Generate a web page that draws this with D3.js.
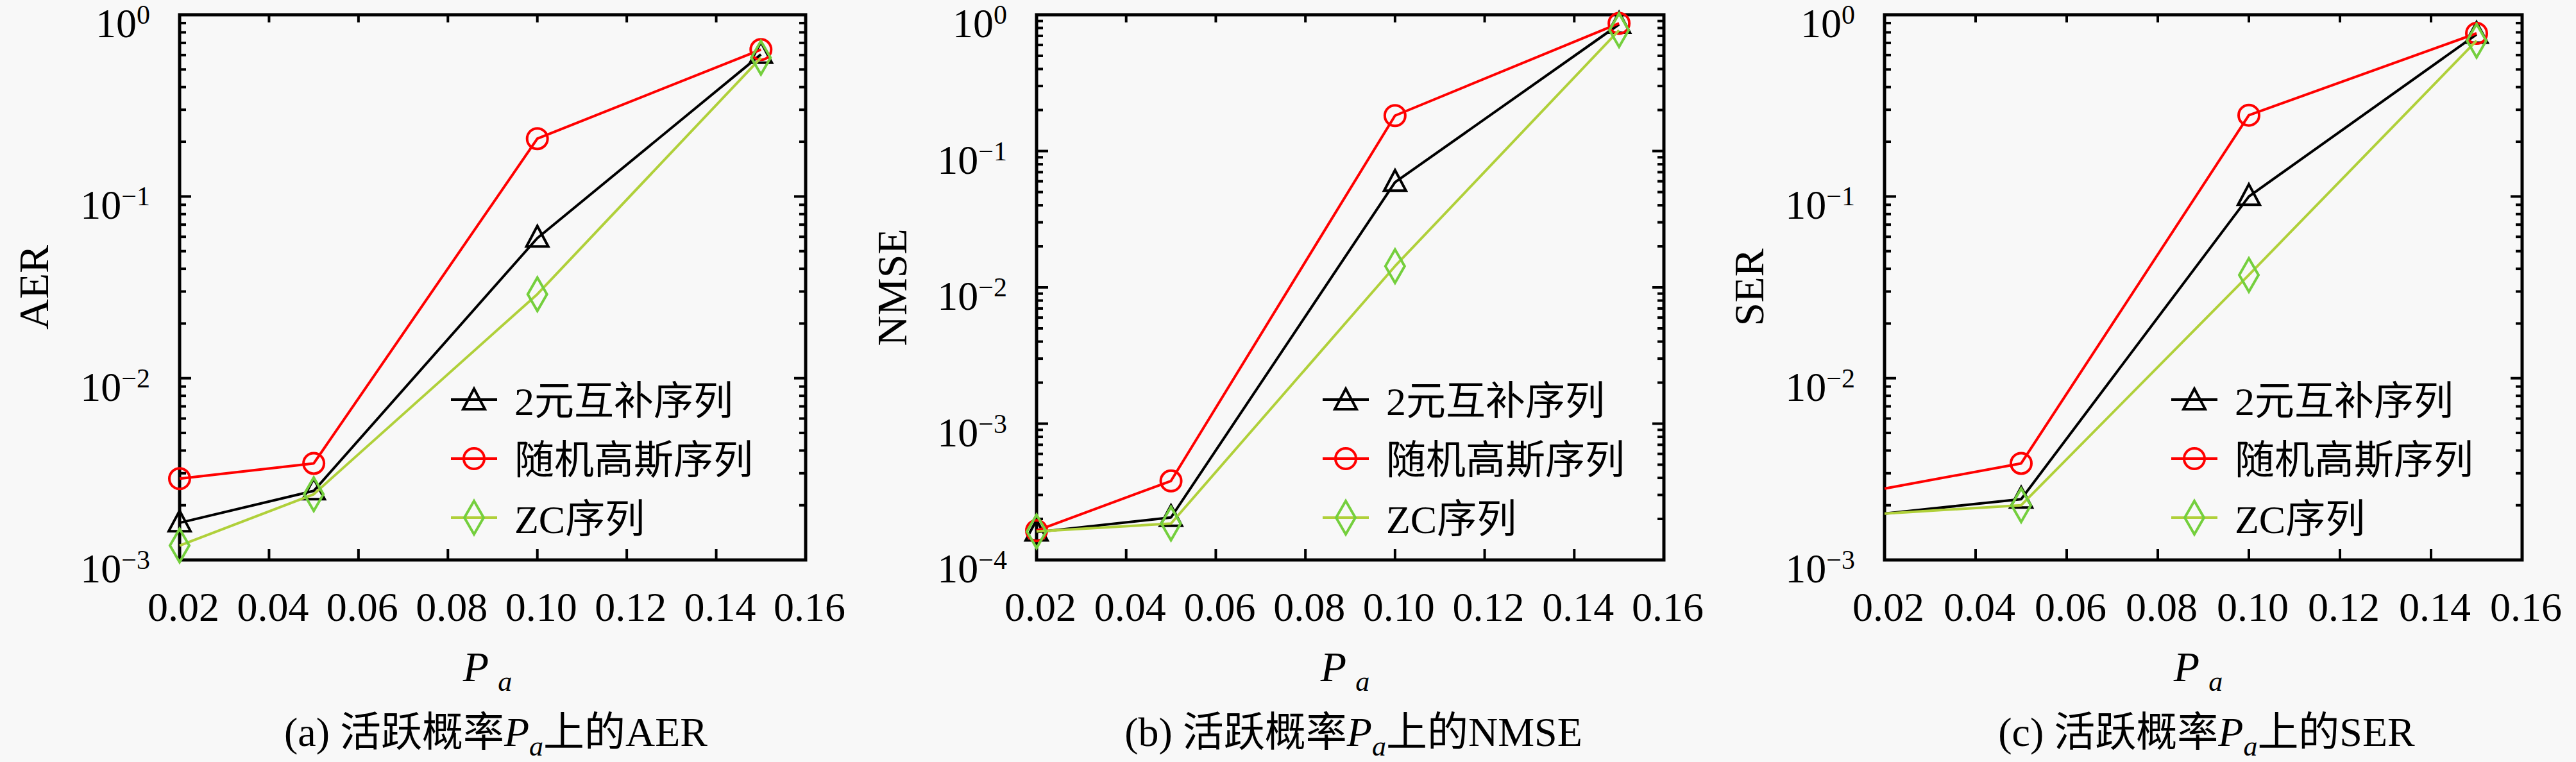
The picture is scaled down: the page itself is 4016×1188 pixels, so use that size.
<!DOCTYPE html>
<html>
<head>
<meta charset="utf-8">
<script src="https://cdn.jsdelivr.net/npm/d3@7"></script>
<style>
  html, body { margin: 0; padding: 0; background: #f8f8f8; }
  svg { display: block; }
  text { font-family: "Liberation Serif", "Noto Sans CJK SC", serif; fill: #000; }
</style>
</head>
<body>
<svg width="4016" height="1188"></svg>
<script>
// data
const pa = [0.02, 0.05, 0.10, 0.15];
const xTicks = [0.02, 0.04, 0.06, 0.08, 0.10, 0.12, 0.14, 0.16];
const seriesNames = ["2元互补序列", "随机高斯序列", "ZC序列"];
const metrics = ["AER", "NMSE", "SER"];
const panelTags = ["(a)", "(b)", "(c)"];

const aerBinary = [0.0016, 0.0024, 0.059, 0.605];
const aerGauss  = [0.0028, 0.0034, 0.208, 0.643];
const aerZC     = [0.0012, 0.0023, 0.029, 0.58];

const nmseBinary = [0.00016, 0.000205, 0.059, 0.85];
const nmseGauss  = [0.000164, 0.00038, 0.182, 0.865];
const nmseZC     = [0.000162, 0.000185, 0.0143, 0.77];

const serBinary = [0.0018, 0.00216, 0.10, 0.78];
const serGauss  = [0.00247, 0.0034, 0.28, 0.79];
const serZC     = [0.0018, 0.0020, 0.037, 0.72];

const yDomains = [[1e-3, 1], [1e-4, 1], [1e-3, 1]];

// layout
const panels = [
  {left: 280, right: 1256, legendX: 703, values: [aerBinary, aerGauss, aerZC], firstMarker: true, ylabOff: 227},
  {left: 1616, right: 2594, legendX: 2062, values: [nmseBinary, nmseGauss, nmseZC], firstMarker: true, ylabOff: 225},
  {left: 2938, right: 3932, legendX: 3385, values: [serBinary, serGauss, serZC], firstMarker: false, ylabOff: 211}
];
const plotTop = 23, plotBottom = 873;

const styles = [
  {line: "#000000", mark: "#000000", shape: "triangle"},
  {line: "#ff0000", mark: "#ff0000", shape: "circle"},
  {line: "#b0d03a", mark: "#74cf3d", shape: "diamond"}
];

function markerPath(shape) {
  if (shape === "triangle") return "M0,-19 L17,13 L-17,13 Z";
  if (shape === "diamond") return "M0,-26 L15,0 L0,26 L-15,0 Z";
  return d3.arc()({innerRadius: 0, outerRadius: 16, startAngle: 0, endAngle: 2 * Math.PI});
}

const svg = d3.select("svg");

panels.forEach((p, pi) => {
  const x = d3.scaleLinear().domain([0.02, 0.16]).range([p.left, p.right]);
  const y = d3.scaleLog().domain(yDomains[pi]).range([plotBottom, plotTop]);
  const g = svg.append("g");

  // ticks: x bottom (up) and top (down)
  g.selectAll(null).data(xTicks).enter().append("line")
    .attr("x1", d => x(d)).attr("x2", d => x(d))
    .attr("y1", plotBottom).attr("y2", plotBottom - 17)
    .attr("stroke", "#000").attr("stroke-width", 4);
  g.selectAll(null).data(xTicks).enter().append("line")
    .attr("x1", d => x(d)).attr("x2", d => x(d))
    .attr("y1", plotTop).attr("y2", plotTop + 12)
    .attr("stroke", "#000").attr("stroke-width", 4);

  // y ticks, major + minor on both sides
  const yt = y.ticks();
  const isMajor = d => Math.abs(Math.log10(d) - Math.round(Math.log10(d))) < 1e-6;
  [p.left, p.right].forEach((ax, side) => {
    const dir = side === 0 ? 1 : -1;
    g.selectAll(null).data(yt).enter().append("line")
      .attr("x1", ax).attr("x2", d => ax + dir * (isMajor(d) ? 18 : 10))
      .attr("y1", d => y(d)).attr("y2", d => y(d))
      .attr("stroke", "#000").attr("stroke-width", 4);
  });

  // frame
  g.append("rect")
    .attr("x", p.left).attr("y", plotTop)
    .attr("width", p.right - p.left).attr("height", plotBottom - plotTop)
    .attr("fill", "none").attr("stroke", "#000").attr("stroke-width", 5);

  // x tick labels
  g.selectAll(null).data(xTicks).enter().append("text")
    .attr("x", d => x(d) + 6).attr("y", 968)
    .attr("text-anchor", "middle").attr("font-size", 64)
    .text(d3.format(".2f"));

  // y tick labels 10^k
  const majors = yt.filter(isMajor);
  const yl = g.selectAll(null).data(majors).enter().append("text")
    .attr("x", p.left - 46).attr("y", d => y(d) + 35)
    .attr("text-anchor", "end").attr("font-size", 64);
  yl.append("tspan").text("10");
  yl.append("tspan").attr("dy", -21).attr("font-size", 42)
    .text(d => { const e = Math.round(Math.log10(d)); return e < 0 ? "\u2212" + (-e) : String(e); });

  // y axis label
  g.append("text")
    .attr("transform", `translate(${p.left - p.ylabOff},${(plotTop + plotBottom) / 2}) rotate(-90)`)
    .attr("text-anchor", "middle").attr("dy", 22).attr("font-size", 66)
    .text(metrics[pi]);

  // x axis label P_a
  const cx = (p.left + p.right) / 2;
  const xl = g.append("text").attr("x", cx - 8).attr("y", 1062)
    .attr("text-anchor", "middle").attr("font-size", 66);
  xl.append("tspan").attr("font-style", "italic").text("P");
  xl.append("tspan").attr("font-style", "italic").attr("font-size", 44)
    .attr("dx", 14).attr("dy", 15).text("a");

  // caption
  const cap = g.append("text").attr("x", cx + 5).attr("y", 1163)
    .attr("text-anchor", "middle").attr("font-size", 64);
  cap.append("tspan").text(panelTags[pi] + " 活跃概率");
  cap.append("tspan").attr("font-style", "italic").text("P");
  cap.append("tspan").attr("font-style", "italic").attr("font-size", 44).attr("dy", 15).text("a");
  cap.append("tspan").attr("dy", -15).text("上的" + metrics[pi]);

  // series
  const line = d3.line().x((d, i) => x(pa[i])).y(d => y(d));
  p.values.forEach((vals, si) => {
    const st = styles[si];
    g.append("path").attr("d", line(vals))
      .attr("fill", "none").attr("stroke", st.line).attr("stroke-width", 4)
      .attr("stroke-linejoin", "round");
    g.selectAll(null).data(vals.map((v, i) => ({v, i})).filter(d => p.firstMarker || d.i > 0))
      .enter().append("path")
      .attr("d", markerPath(st.shape))
      .attr("transform", d => `translate(${x(pa[d.i])},${y(d.v)})`)
      .attr("fill", "none").attr("stroke", st.mark).attr("stroke-width", 4);
  });

  // legend
  seriesNames.forEach((name, si) => {
    const st = styles[si];
    const ly = 623 + si * 92;
    g.append("line").attr("x1", p.legendX).attr("x2", p.legendX + 72)
      .attr("y1", ly).attr("y2", ly)
      .attr("stroke", st.line).attr("stroke-width", 4);
    g.append("path").attr("d", markerPath(st.shape))
      .attr("transform", `translate(${p.legendX + 36},${ly + (st.shape === "triangle" ? 2 : 0)})`)
      .attr("fill", "none").attr("stroke", st.mark).attr("stroke-width", 4);
    g.append("text").attr("x", p.legendX + 99).attr("y", ly + 24)
      .attr("font-size", 62).text(name);
  });
});
</script>
</body>
</html>
